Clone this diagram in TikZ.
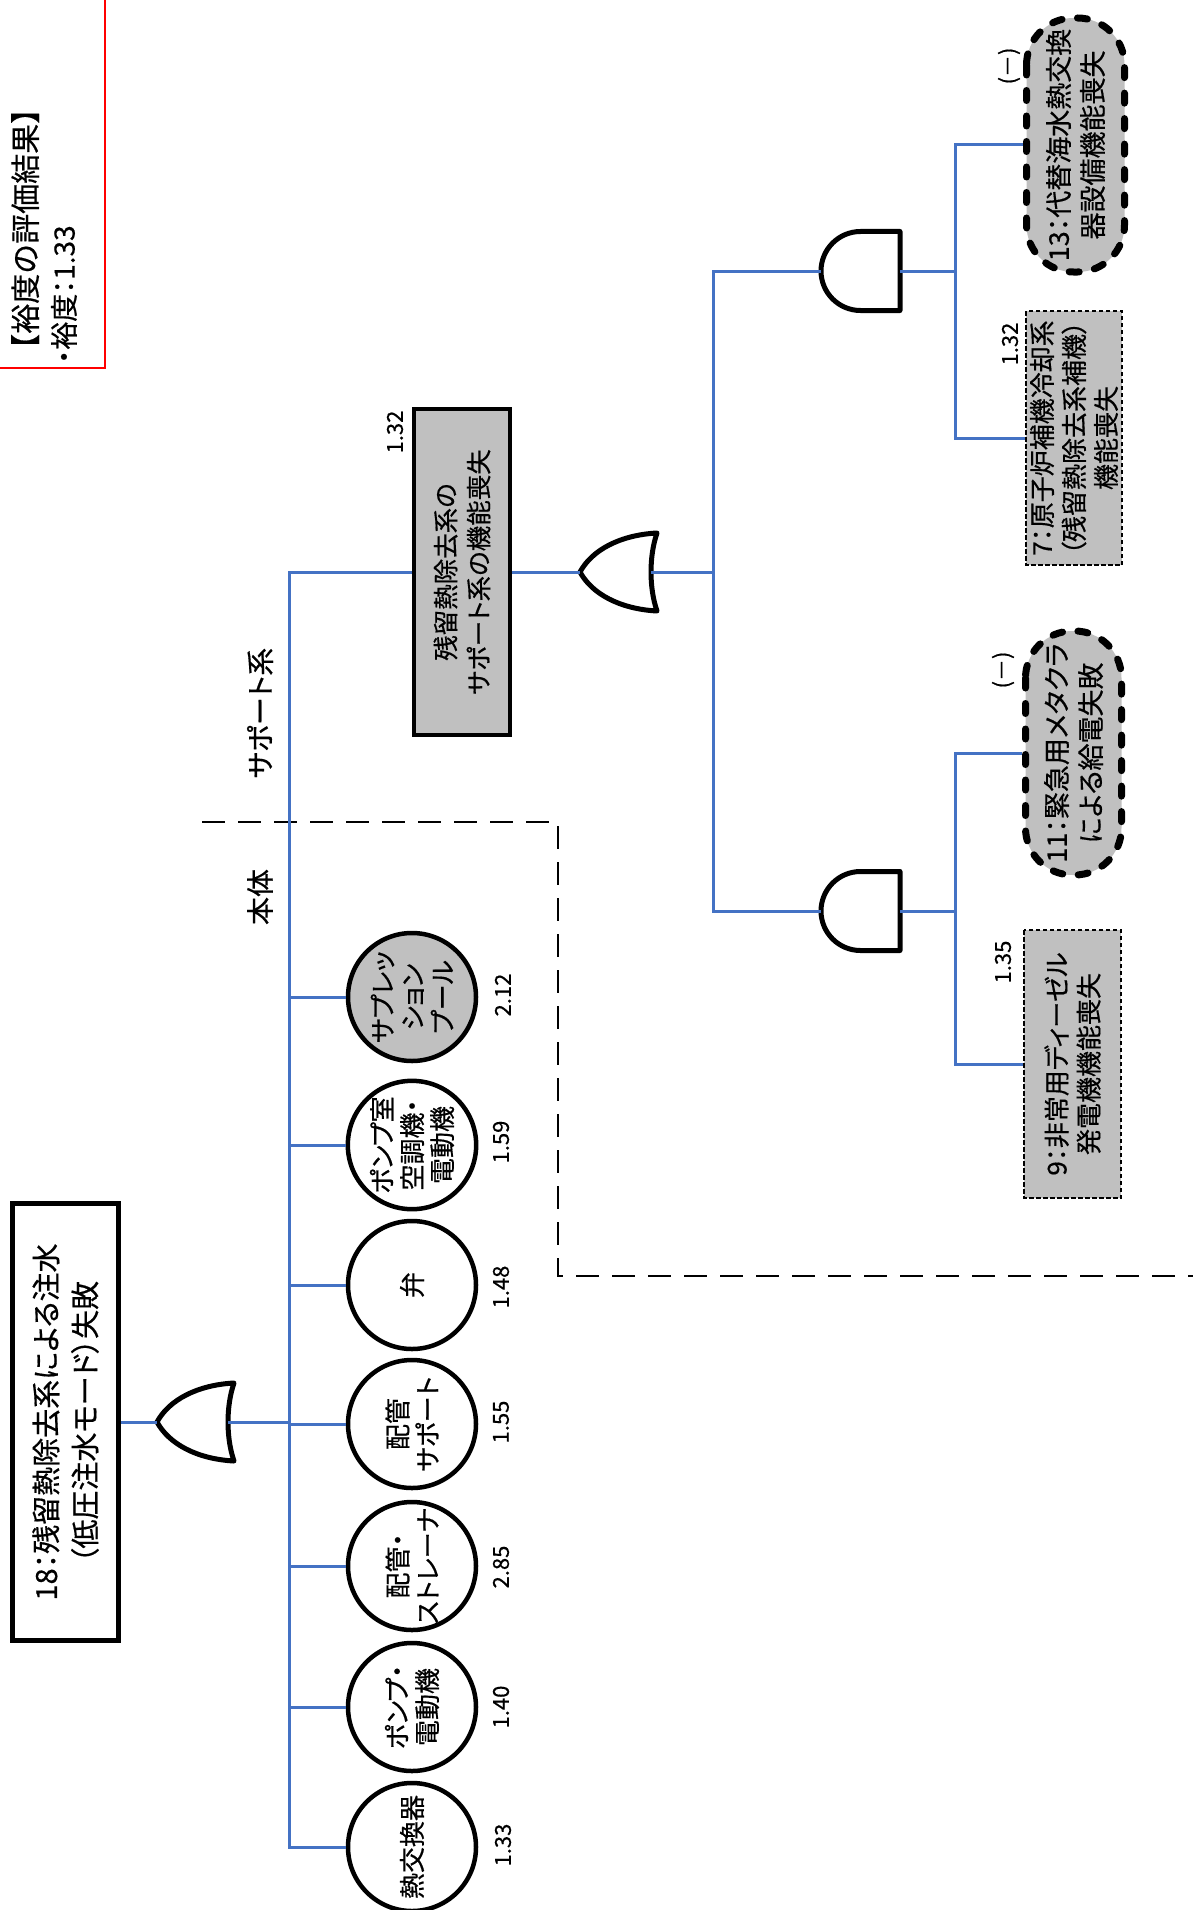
\documentclass[tikz,border=0pt]{standalone}
\usepackage{fontspec}
\setmainfont{Noto Sans CJK JP}[RawFeature=+palt,FakeBold=0.5]
\newfontfamily\fulljp{Noto Sans CJK JP}[FakeBold=0.5]
\usepackage{tikz}
\usetikzlibrary{positioning}
\definecolor{wireblue}{HTML}{4472C4}
\definecolor{evgray}{HTML}{C0C0C0}
\definecolor{alert}{HTML}{FF0000}
\tikzset{
  wire/.style={draw=wireblue,line width=3pt},
  gateline/.style={draw=black,line width=5pt,fill=white,line join=round},
  topbox/.style={draw,line width=4.5pt,fill=white,rotate=90,align=center,minimum width=437pt,minimum height=106pt,font=\fontsize{29}{39}\selectfont},
  midbox/.style={topbox,fill=evgray,minimum width=326pt,minimum height=96pt,font=\fontsize{25.5}{33}\selectfont},
  basic/.style={circle,draw,line width=4.5pt,fill=white,minimum size=128pt,inner sep=0pt,rotate=90,align=center,font=\fontsize{26}{30}\selectfont},
  undev/.style={draw,line width=7pt,dash pattern=on 10pt off 15.5pt,line cap=round,fill=evgray,rounded corners=47pt,rotate=90,align=center,font=\fontsize{27}{34}\selectfont},
  house/.style={draw,line width=1.8pt,dash pattern=on 4.5pt off 2.5pt,fill=evgray,rotate=90,align=center,font=\fontsize{26}{32}\selectfont},
  num/.style={rotate=90,inner sep=0pt,font=\fontsize{22}{26}\selectfont},
  zonetext/.style={rotate=90,inner sep=0pt,font=\fontsize{28}{38}\selectfont},
  zoneline/.style={draw,line width=2.8pt,dash pattern=on 23pt off 13pt},
  orgate/.pic={
    \draw[gateline] (0,0) .. controls (12,-22) and (40,-37) .. (77,-39)
      .. controls (69,-16) and (69,16) .. (77,39)
      .. controls (40,37) and (12,22) .. cycle;
    \coordinate (-out) at (0,0);
    \coordinate (-in) at (71,0);
  },
  andgate/.pic={
    \draw[gateline] (79,-39.5) -- (39.5,-39.5)
      .. controls (17.7,-39.5) and (0,-21.8) .. (0,0)
      .. controls (0,21.8) and (17.7,39.5) .. (39.5,39.5)
      -- (79,39.5) -- cycle;
    \coordinate (-out) at (0,0);
    \coordinate (-in) at (79,0);
  }
}
\begin{document}
\begin{tikzpicture}[x=1pt,y=-1pt]
\useasboundingbox (0,0) rectangle (1192,1910);

\draw[alert,line width=2.5pt] (-10,-10) rectangle (105,368);
\node[zonetext,anchor=north west,align=left] (result) at (11,364) {{\fulljp\fontsize{30}{38}\selectfont 【裕度の評価結果】}\\・裕度：1.33};

\draw[zoneline] (202,822) -- (558,822) -- (558,1276) -- (1200,1276);
\node[zonetext] (suplabel) at (260,713) {サポート系};
\node[zonetext] (bodylabel) at (260,897) {本体};

\node[topbox] (top) at (65.5,1422) {18：残留熱除去系による注水\\（低圧注水モード）失敗};
\pic (or0) at (157,1422) {orgate};

\node[midbox] (sup) at (462,572) {残留熱除去系の\\サポート系の機能喪失};
\node[num] (supval) at (395,432) {1.32};
\pic (or1) at (580,572) {orgate};

\node[basic,fill=evgray] (pool) at (412,997) {サプレッ\\ション\\プール};
\node[basic] (room) at (412,1145) {ポンプ室\\空調機・\\電動機};
\node[basic] (valve) at (412,1285) {弁};
\node[basic] (support) at (412,1424) {配管\\サポート};
\node[basic] (strainer) at (412,1566) {配管・\\ストレーナ};
\node[basic] (pump) at (412,1707) {ポンプ・\\電動機};
\node[basic] (hx) at (412,1847) {熱交換器};
\node[num] (poolval) at (503,995) {2.12};
\node[num] (roomval) at (501,1142) {1.59};
\node[num] (valveval) at (501,1287) {1.48};
\node[num] (supportval) at (501,1422) {1.55};
\node[num] (strainerval) at (501,1567) {2.85};
\node[num] (pumpval) at (501,1707) {1.40};
\node[num] (hxval) at (503,1845) {1.33};

\pic (and1) at (821,271) {andgate};
\pic (and2) at (821,911) {andgate};

\node[undev,minimum width=254pt,minimum height=98pt] (ev13) at (1075.5,145) {13：代替海水熱交換\\器設備機能喪失};
\node[num] (ev13val) at (1009,66) {(－)};
\node[house,minimum width=254pt,minimum height=96pt] (ev7) at (1074,438) {7：原子炉補機冷却系\\（残留熱除去系補機）\\機能喪失};
\node[num] (ev7val) at (1010,344) {1.32};
\node[undev,minimum width=244pt,minimum height=96pt] (ev11) at (1073.5,753) {11：緊急用メタクラ\\による給電失敗};
\node[num] (ev11val) at (1003,670) {(－)};
\node[house,minimum width=268pt,minimum height=97pt] (ev9) at (1072.5,1064) {9：非常用ディーゼル\\発電機機能喪失};
\node[num] (ev9val) at (1003,962) {1.35};

\coordinate (mainbus) at (289,572);
\coordinate (midbus) at (713,572);
\coordinate (rbus) at (955,0);
\draw[wire] (top.south) -- (or0-out);
\draw[wire] (or0-in) -- (or0-in -| mainbus);
\draw[wire] (sup.north) -- (mainbus) -- (mainbus |- hx.north) -- (hx.north);
\foreach \n in {pool,room,valve,support,strainer,pump}
  \draw[wire] (\n.north) -- (\n.north -| mainbus);
\draw[wire] (sup.south) -- (or1-out);
\draw[wire] (or1-in) -- (midbus);
\draw[wire] (and1-out) -| (midbus |- and2-out) -- (and2-out);
\draw[wire] (ev13.north) -| (rbus |- ev7.north) -- (ev7.north);
\draw[wire] (and1-in) -- (and1-in -| rbus);
\draw[wire] (ev11.north) -| (rbus |- ev9.north) -- (ev9.north);
\draw[wire] (and2-in) -- (and2-in -| rbus);
\end{tikzpicture}
\end{document}
